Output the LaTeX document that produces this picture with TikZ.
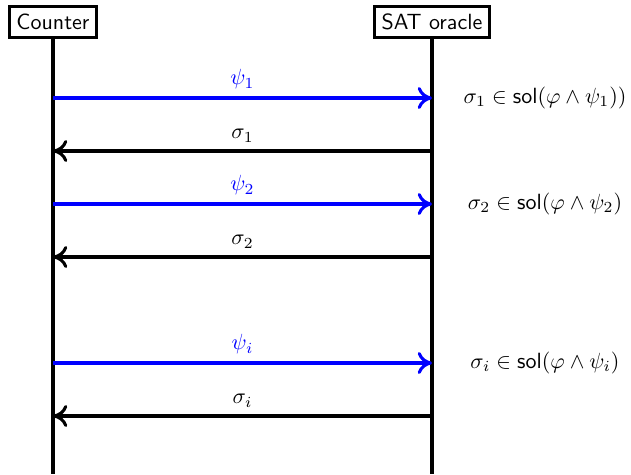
\documentclass[tikz,border=0pt]{standalone}
\usepackage{amsmath,amssymb}
\usepackage{tikz}
\usetikzlibrary{arrows.meta, calc}

\begin{document}
\begin{tikzpicture}[x=0.4545pt, y=-0.4545pt, font=\sffamily,
  >={Computer Modern Rightarrow[length=6.5pt, width=10pt]},
  party/.style={draw, line width=1.4pt, inner sep=0.333em},
  lifeline/.style={line width=1.4pt},
  query/.style={->, line width=1.4pt, blue},
  answer/.style={->, line width=1.4pt, black}]
\useasboundingbox (0,0) rectangle (631,474);

% Parties
\node[party] (counter) at (53,22) {Counter};
\node[party] (oracle) at (432,22) {SAT oracle};

% Lifelines
\coordinate (cend) at (53,474);
\coordinate (oend) at (432,474);
\draw[lifeline] (counter.south) -- (cend);
\draw[lifeline] (oracle.south) -- (oend);

% Round 1
\coordinate (c1) at (53,98);  \coordinate (o1) at (432,98);
\coordinate (c2) at (53,151); \coordinate (o2) at (432,151);
\draw[query] (c1) -- (o1) node[midway, above, blue] {$\psi_1$};
\draw[answer] (o2) -- (c2) node[midway, above] {$\sigma_1$};
\node (sol1) at (545,98) {$\sigma_1 \in \mathsf{sol}(\varphi \wedge \psi_1))$};

% Round 2
\coordinate (c3) at (53,204); \coordinate (o3) at (432,204);
\coordinate (c4) at (53,257); \coordinate (o4) at (432,257);
\draw[query] (c3) -- (o3) node[midway, above, blue] {$\psi_2$};
\draw[answer] (o4) -- (c4) node[midway, above] {$\sigma_2$};
\node (sol2) at (545,204) {$\sigma_2 \in \mathsf{sol}(\varphi \wedge \psi_2)$};

% Round i
\coordinate (c5) at (53,363); \coordinate (o5) at (432,363);
\coordinate (c6) at (53,416); \coordinate (o6) at (432,416);
\draw[query] (c5) -- (o5) node[midway, above, blue] {$\psi_i$};
\draw[answer] (o6) -- (c6) node[midway, above] {$\sigma_i$};
\node (soli) at (545,363) {$\sigma_i \in \mathsf{sol}(\varphi \wedge \psi_i)$};
\end{tikzpicture}
\end{document}
